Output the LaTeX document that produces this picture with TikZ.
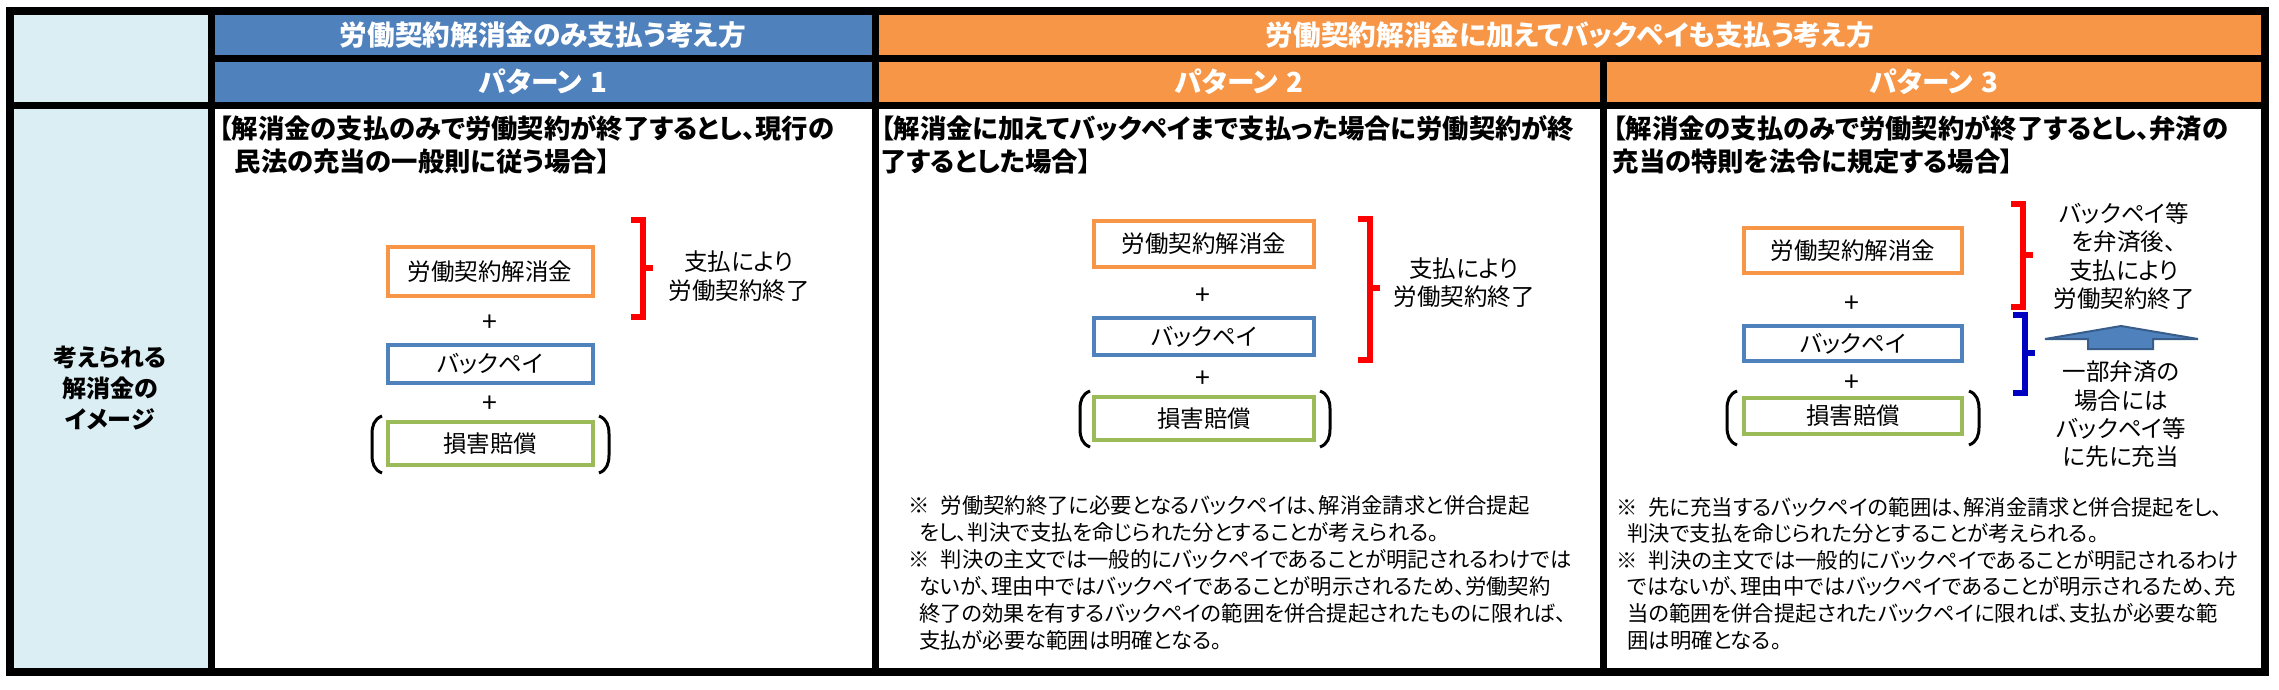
\documentclass[tikz,border=0pt]{standalone}
\usepackage{fontspec}
\usepackage{tikz}
\setmainfont{Noto Sans CJK JP}[RawFeature=+palt]
\definecolor{hdblue}{HTML}{4F81BD}
\definecolor{hdorange}{HTML}{F79646}
\definecolor{sidecol}{HTML}{DAEEF3}
\definecolor{kgreen}{HTML}{9BBB59}
\definecolor{arredge}{HTML}{385D8A}
\definecolor{brblue}{HTML}{0000C0}
\def\Brk#1#2#3#4#5{\draw [line width=1.7pt,#1] (#2,#3) -- (#2+12,#3) -- (#2+12,#4) -- (#2,#4);
  \draw [line width=1.7pt,#1] (#2+12,#5) -- ++(10,0);}
\def\LPar#1#2#3{\draw [line width=0.9pt] (#1+10,#2) .. controls (#1+2,#2+3) and (#1,#2+10) .. (#1,#2+18) -- (#1,#3-18) .. controls (#1,#3-10) and (#1+2,#3-3) .. (#1+10,#3);}
\def\RPar#1#2#3{\draw [line width=0.9pt] (#1-10,#2) .. controls (#1-2,#2+3) and (#1,#2+10) .. (#1,#2+18) -- (#1,#3-18) .. controls (#1,#3-10) and (#1-2,#3-3) .. (#1-10,#3);}

\begin{document}
\begin{tikzpicture}[x=0.3pt,y=-0.3pt,
  hd/.style={text=white,font=\fontsize{8.3}{10}\selectfont\bfseries},
  lead/.style={anchor=west,inner sep=0pt,font=\fontsize{7.9}{9.5}\selectfont\bfseries},
  kbox/.style={draw,line width=1.2pt,inner sep=0pt,font=\fontsize{7.05}{8.5}\selectfont},
  plus/.style={inner sep=0pt,font=\fontsize{8}{9}\selectfont},
  side/.style={align=center,inner sep=0pt,font=\fontsize{7.05}{8.5}\selectfont},
  note/.style={anchor=west,inner sep=0pt,font=\fontsize{6.4}{7.6}\selectfont}]
\useasboundingbox (0,0) rectangle (2279,689);
% cells
\fill[sidecol] (9,11) rectangle (211,672);
\fill[hdblue] (211,11) rectangle (875,105);
\fill[hdorange] (875,11) rectangle (2265,105);
\draw[line width=2.4pt] (9.5,11) rectangle (2265,672);
\draw[line width=2.1pt] (211.5,11) -- (211.5,672) (875,11) -- (875,672) (1603.5,58.5) -- (1603.5,672)
  (211.5,58.5) -- (2265,58.5) (9.5,105) -- (2265,105);
% headers
\node[hd] (h1) at (543,35) {労働契約解消金のみ支払う考え方};
\node[hd] (h2) at (1570,35) {労働契約解消金に加えてバックペイも支払う考え方};
\node[hd] (pt1) at (543,82) {パターン\hspace{0.3em}1};
\node[hd] (pt2) at (1239,82) {パターン\hspace{0.3em}2};
\node[hd] (pt3) at (1934,82) {パターン\hspace{0.3em}3};
\node[align=center,font=\fontsize{7.2}{9.3}\selectfont\bfseries] (img) at (110,388) {考えられる\\解消金の\\イメージ};
% pattern 1
\node[lead] (l1a) at (218,128) {【解消金の支払のみで労働契約が終了するとし、現行の};
\node[lead] (l1b) at (234,162) {民法の充当の一般則に従う場合】};
\node[kbox,draw=hdorange,minimum width=61.5pt,minimum height=14.7pt] (k1a) at (490,271.5) {労働契約解消金};
\node[plus] (s1a) at (490,323) {+};
\node[kbox,draw=hdblue,minimum width=61.5pt,minimum height=11.4pt] (k1b) at (490,364) {バックペイ};
\node[plus] (s1b) at (490,404) {+};
\node[kbox,draw=kgreen,minimum width=61.5pt,minimum height=12.9pt] (k1c) at (490,443.5) {損害賠償};
\LPar{372}{416}{473} \RPar{609}{416}{473}
\Brk{red}{631}{220}{317}{268}
\node[side] (t1) at (739,276) {支払により\\労働契約終了};
% pattern 2
\node[lead] (l2a) at (880,128) {【解消金に加えてバックペイまで支払った場合に労働契約が終};
\node[lead] (l2b) at (880,162) {了するとした場合】};
\node[kbox,draw=hdorange,minimum width=66pt,minimum height=13.8pt] (k2a) at (1204,244) {労働契約解消金};
\node[plus] (s2a) at (1203,296) {+};
\node[kbox,draw=hdblue,minimum width=66pt,minimum height=11.1pt] (k2b) at (1204,336.5) {バックペイ};
\node[plus] (s2b) at (1203,379) {+};
\node[kbox,draw=kgreen,minimum width=66pt,minimum height=12.9pt] (k2c) at (1204,418.5) {損害賠償};
\LPar{1080}{391}{447} \RPar{1330}{391}{447}
\Brk{red}{1358}{219}{360}{288}
\node[side] (t2) at (1464,282.5) {支払により\\労働契約終了};
\foreach \t [count=\i] in {※\hspace{0.5em}労働契約終了に必要となるバックペイは、解消金請求と併合提起,
  \hspace{0.5em}をし、判決で支払を命じられた分とすることが考えられる。,
  ※\hspace{0.5em}判決の主文では一般的にバックペイであることが明記されるわけでは,
  \hspace{0.5em}ないが、理由中ではバックペイであることが明示されるため、労働契約,
  \hspace{0.5em}終了の効果を有するバックペイの範囲を併合提起されたものに限れば、,
  \hspace{0.5em}支払が必要な範囲は明確となる。}
  \node[note] (n2\i) at (908,{505+27*(\i-1)}) {\t};
% pattern 3
\node[lead] (l3a) at (1612,128) {【解消金の支払のみで労働契約が終了するとし、弁済の};
\node[lead] (l3b) at (1612,162) {充当の特則を法令に規定する場合】};
\node[kbox,draw=hdorange,minimum width=65.4pt,minimum height=13.5pt] (k3a) at (1853,250.5) {労働契約解消金};
\node[plus] (s3a) at (1852,304) {+};
\node[kbox,draw=hdblue,minimum width=65.4pt,minimum height=10.5pt] (k3b) at (1853,343.5) {バックペイ};
\node[plus] (s3b) at (1852,383) {+};
\node[kbox,draw=kgreen,minimum width=65.4pt,minimum height=10.8pt] (k3c) at (1853,416) {損害賠償};
\LPar{1727}{391}{445} \RPar{1979}{391}{445}
\Brk{red}{2011}{204}{307}{255}
\Brk{brblue}{2013}{315}{393}{353}
\node[side] (t3) at (2124,256) {バックペイ等\\を弁済後、\\支払により\\労働契約終了};
\node[side] (t4) at (2121,414.5) {一部弁済の\\場合には\\バックペイ等\\に先に充当};
\draw[fill=hdblue,draw=arredge,line width=0.6pt] (2045,339) -- (2121,326) -- (2198,339) -- (2153,339)
  -- (2153,349) -- (2088,349) -- (2088,339) -- cycle;
\foreach \t [count=\i] in {※\hspace{0.5em}先に充当するバックペイの範囲は、解消金請求と併合提起をし、,
  \hspace{0.5em}判決で支払を命じられた分とすることが考えられる。,
  ※\hspace{0.5em}判決の主文では一般的にバックペイであることが明記されるわけ,
  \hspace{0.5em}ではないが、理由中ではバックペイであることが明示されるため、充,
  \hspace{0.5em}当の範囲を併合提起されたバックペイに限れば、支払が必要な範,
  \hspace{0.5em}囲は明確となる。}
  \node[note] (n3\i) at (1616,{507+26.6*(\i-1)}) {\t};
\end{tikzpicture}
\end{document}
